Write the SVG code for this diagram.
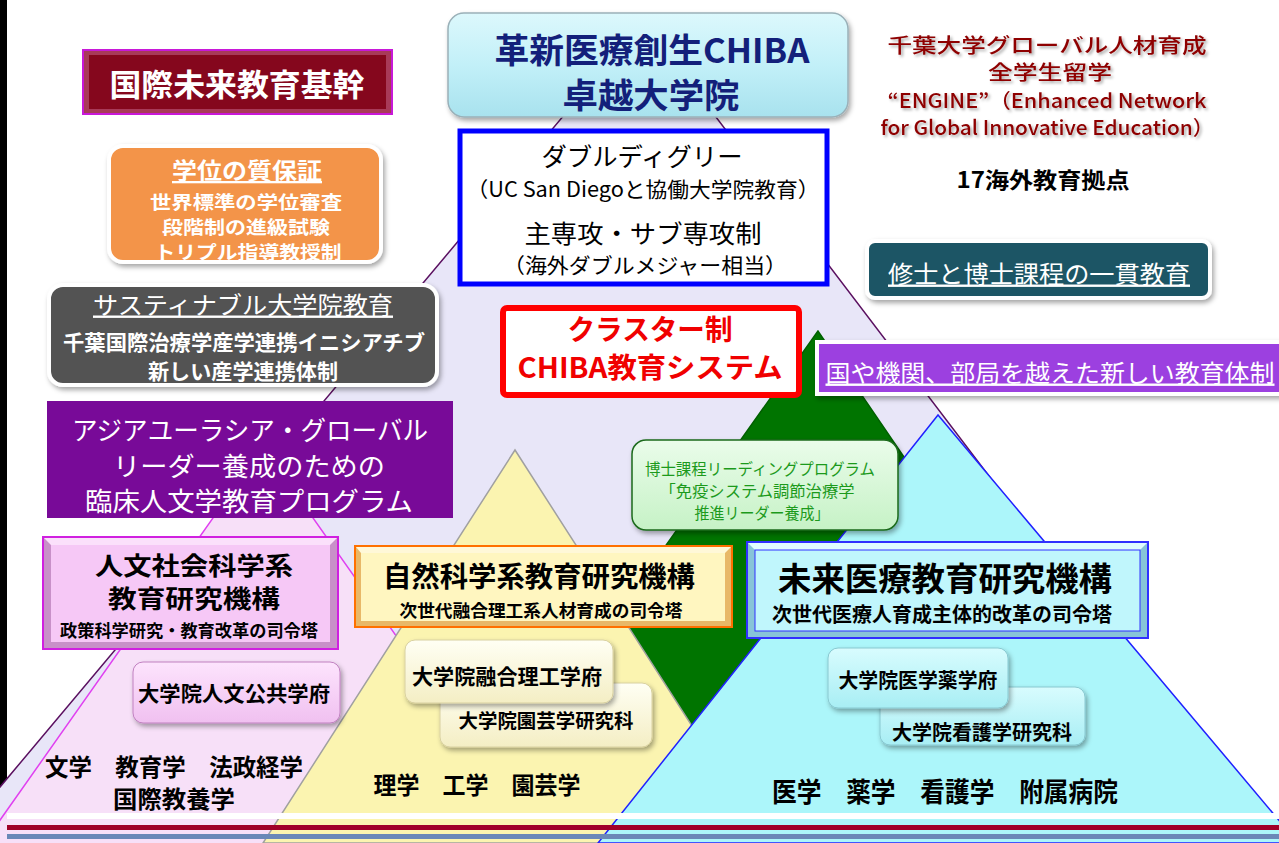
<svg xmlns="http://www.w3.org/2000/svg" width="1279" height="843" viewBox="0 0 1279 843">
<defs>
<style>
text{font-family:"Noto Sans CJK JP","Noto Sans",sans-serif;text-anchor:middle;dominant-baseline:central}
.b{font-weight:700}
.w{fill:#fff}
.k{fill:#000}
.u{text-decoration:underline}
.tri{stroke-width:1.5}
.box2{filter:url(#sh)}
</style>
<filter id="sh" x="-10%" y="-10%" width="125%" height="135%"><feDropShadow dx="2" dy="3" stdDeviation="2.5" flood-color="#000" flood-opacity="0.35"/></filter>
<filter id="tsh" x="-5%" y="-20%" width="110%" height="160%"><feDropShadow dx="2" dy="2" stdDeviation="1.5" flood-color="#000" flood-opacity="0.35"/></filter>
<linearGradient id="gTop" x1="0" y1="0" x2="0" y2="1"><stop offset="0" stop-color="#dcf8fc"/><stop offset="0.5" stop-color="#c2f0f8"/><stop offset="1" stop-color="#a8e2ee"/></linearGradient>
<linearGradient id="gGreen" x1="0" y1="0" x2="0" y2="1"><stop offset="0" stop-color="#eafcea"/><stop offset="1" stop-color="#c6f2c6"/></linearGradient>
<linearGradient id="gPink" x1="0" y1="0" x2="0" y2="1"><stop offset="0" stop-color="#fde4fd"/><stop offset="1" stop-color="#f0c0f0"/></linearGradient>
<linearGradient id="gCream" x1="0" y1="0" x2="0" y2="1"><stop offset="0" stop-color="#fffff4"/><stop offset="1" stop-color="#f4eec4"/></linearGradient>
<linearGradient id="gCyan" x1="0" y1="0" x2="0" y2="1"><stop offset="0" stop-color="#d8fcfe"/><stop offset="1" stop-color="#a8eef4"/></linearGradient>
</defs>
<rect width="1279" height="843" fill="#fff"/>
<rect x="0" y="0" width="7" height="843" fill="#000"/>
<g id="background">
<polygon class="tri" points="643,21 -47,843 1268,843" fill="#e8e6f8" stroke="#5a1060"/>
<polygon class="tri" points="818,331 398,923 1222,923" fill="#007400" stroke="#006000"/>
<polygon class="tri" points="263,447 -100,962 626,962" fill="#f7e0f8" stroke="#e040f0"/>
<polygon class="tri" points="515,450 263,843 767,843" fill="#fbf4b0" stroke="#a0a0a0"/>
<polygon class="tri" points="938,415 598,843 1298,843" fill="#acf6fa" stroke="#2020ff"/>
<rect x="7" y="813" width="1272" height="6" fill="#fff"/>
<rect x="7" y="825" width="1272" height="5" fill="#a00028"/>
<rect x="7" y="834" width="1272" height="5" fill="#6a88b8"/>
</g>
<g id="connectors"/>
<g id="kikan">
<rect x="83" y="50" width="309" height="64" fill="#a83a58" stroke="#c818d8" stroke-width="2"/>
<rect x="89" y="55" width="297" height="54" fill="#85071d"/>
<text x="237" y="82" class="w b" font-size="31" textLength="255" lengthAdjust="spacingAndGlyphs">国際未来教育基幹</text>
</g>
<g id="gakui">
<rect class="box2" x="109" y="146" width="272" height="116" rx="14" fill="#f39448" stroke="#fff" stroke-width="4"/>
<text x="247" y="169" class="w b u" font-size="23" textLength="150" lengthAdjust="spacingAndGlyphs">学位の質保証</text>
<text x="246" y="201" class="w b" font-size="18.5" textLength="192" lengthAdjust="spacingAndGlyphs">世界標準の学位審査</text>
<text x="246" y="226" class="w b" font-size="18.5" textLength="168" lengthAdjust="spacingAndGlyphs">段階制の進級試験</text>
<text x="248" y="251" class="w b" font-size="18.5" textLength="187" lengthAdjust="spacingAndGlyphs">トリプル指導教授制</text>
</g>
<g id="sustainable">
<rect class="box2" x="49" y="285" width="388" height="100" rx="14" fill="#525252" stroke="#fff" stroke-width="4"/>
<text x="243" y="303" class="w u" font-size="24" textLength="300" lengthAdjust="spacingAndGlyphs">サスティナブル大学院教育</text>
<text x="244" y="341" class="w b" font-size="21" textLength="362" lengthAdjust="spacingAndGlyphs">千葉国際治療学産学連携イニシアチブ</text>
<text x="243" y="370" class="w b" font-size="21" textLength="190" lengthAdjust="spacingAndGlyphs">新しい産学連携体制</text>
</g>
<g id="asia">
<rect x="47" y="401" width="406" height="117" fill="#780a98"/>
<text x="250" y="428" class="w" font-size="26" textLength="356" lengthAdjust="spacingAndGlyphs">アジアユーラシア・グローバル</text>
<text x="249" y="464" class="w" font-size="26" textLength="272" lengthAdjust="spacingAndGlyphs">リーダー養成のための</text>
<text x="249" y="499" class="w" font-size="26" textLength="328" lengthAdjust="spacingAndGlyphs">臨床人文学教育プログラム</text>
</g>
<g id="top">
<rect class="box2" x="448" y="13" width="400" height="104" rx="16" fill="url(#gTop)" stroke="#9ab0b8" stroke-width="1.5"/>
<text x="652" y="48" class="b" fill="#13207a" font-size="34" textLength="315" lengthAdjust="spacingAndGlyphs">革新医療創生CHIBA</text>
<text x="651" y="93" class="b" fill="#13207a" font-size="34" textLength="177" lengthAdjust="spacingAndGlyphs">卓越大学院</text>
</g>
<g id="double">
<rect x="460" y="131" width="367" height="153" fill="#fff" stroke="#0000ff" stroke-width="5"/>
<text x="642" y="155" class="k" font-size="25" textLength="201" lengthAdjust="spacingAndGlyphs">ダブルディグリー</text>
<text x="643" y="188" class="k" font-size="21" textLength="353" lengthAdjust="spacingAndGlyphs">（UC San Diegoと協働大学院教育）</text>
<text x="643" y="232" class="k" font-size="25" textLength="237" lengthAdjust="spacingAndGlyphs">主専攻・サブ専攻制</text>
<text x="645" y="264" class="k" font-size="21" textLength="284" lengthAdjust="spacingAndGlyphs">（海外ダブルメジャー相当）</text>
</g>
<g id="cluster">
<rect x="503" y="308" width="296" height="87" rx="4" fill="#fff" stroke="#ff0000" stroke-width="6"/>
<text x="650" y="328" class="b" fill="#f00000" font-size="28" textLength="165" lengthAdjust="spacingAndGlyphs">クラスター制</text>
<text x="650" y="366" class="b" fill="#f00000" font-size="28" textLength="265" lengthAdjust="spacingAndGlyphs">CHIBA教育システム</text>
</g>
<g id="engine" fill="#8e0000" style="filter:url(#tsh)">
<text x="1047" y="44" font-size="20" font-weight="500" textLength="319" lengthAdjust="spacingAndGlyphs">千葉大学グローバル人材育成</text>
<text x="1050" y="71.5" font-size="20" font-weight="500" textLength="124" lengthAdjust="spacingAndGlyphs">全学生留学</text>
<text x="1047" y="99" font-size="20" font-weight="500" textLength="319" lengthAdjust="spacingAndGlyphs">“ENGINE”（Enhanced Network</text>
<text x="1047" y="126.5" font-size="20" font-weight="500" textLength="333" lengthAdjust="spacingAndGlyphs">for Global Innovative Education）</text>
</g>
<g id="overseas">
<text x="1043" y="178" class="k b" font-size="22" textLength="173" lengthAdjust="spacingAndGlyphs">17海外教育拠点</text>
</g>
<g id="ikkan">
<rect class="box2" x="867" y="241" width="343" height="57" rx="8" fill="#1f5565" stroke="#fff" stroke-width="4"/>
<text x="1039" y="272" class="w u" font-size="24" textLength="302" lengthAdjust="spacingAndGlyphs">修士と博士課程の一貫教育</text>
</g>
<g id="kuni">
<rect class="box2" x="817" y="342" width="470" height="52" fill="#9c40e0" stroke="#fff" stroke-width="4"/>
<text x="1050" y="371" class="w u" font-size="24" textLength="449" lengthAdjust="spacingAndGlyphs">国や機関、部局を越えた新しい教育体制</text>
</g>
<g id="leading">
<rect class="box2" x="632" y="440" width="266" height="90" rx="14" fill="url(#gGreen)" stroke="#1a6a1a" stroke-width="1.5"/>
<text x="760" y="468" fill="#1c9a1c" font-size="16" textLength="230" lengthAdjust="spacingAndGlyphs">博士課程リーディングプログラム</text>
<text x="757" y="490" fill="#1c9a1c" font-size="16" textLength="195" lengthAdjust="spacingAndGlyphs">「免疫システム調節治療学</text>
<text x="762" y="512" fill="#1c9a1c" font-size="16" textLength="135" lengthAdjust="spacingAndGlyphs">推進リーダー養成」</text>
</g>
<g id="jinbun">
<rect x="43" y="537" width="295" height="112" fill="#c890c8" stroke="#d020e0" stroke-width="2"/>
<polygon points="44,538 337,538 330,545 51,545" fill="#fbe0fb"/>
<rect x="51" y="545" width="279" height="97" fill="#f6c8f6"/>
<text x="194" y="564" class="k b" font-size="24.5" textLength="198" lengthAdjust="spacingAndGlyphs">人文社会科学系</text>
<text x="194" y="597" class="k b" font-size="24.5" textLength="172" lengthAdjust="spacingAndGlyphs">教育研究機構</text>
<text x="189" y="629" class="k b" font-size="17" textLength="258" lengthAdjust="spacingAndGlyphs">政策科学研究・教育改革の司令塔</text>
</g>
<g id="jinbun-fu">
<rect class="box2" x="133" y="662" width="207" height="61" rx="10" fill="url(#gPink)" stroke="#c080c0" stroke-width="1"/>
<text x="234" y="692" class="k b" font-size="21" textLength="192" lengthAdjust="spacingAndGlyphs">大学院人文公共学府</text>
</g>
<g id="jinbun-dept">
<text x="174" y="766" class="k b" font-size="23.5" textLength="258" lengthAdjust="spacingAndGlyphs">文学　教育学　法政経学</text>
<text x="174" y="798" class="k b" font-size="23.5" textLength="122" lengthAdjust="spacingAndGlyphs">国際教養学</text>
</g>
<g id="shizen">
<rect x="355" y="546" width="377" height="81" fill="#e8b868" stroke="#ff7000" stroke-width="2"/>
<polygon points="356,547 731,547 725,553 361,553" fill="#fff8d8"/>
<rect x="361" y="553" width="364" height="68" fill="#fff6c0"/>
<text x="539" y="575" class="k b" font-size="28" textLength="312" lengthAdjust="spacingAndGlyphs">自然科学系教育研究機構</text>
<text x="541" y="609" class="k b" font-size="17.5" textLength="283" lengthAdjust="spacingAndGlyphs">次世代融合理工系人材育成の司令塔</text>
</g>
<g id="engei">
<rect class="box2" x="440" y="683" width="212" height="64" rx="10" fill="url(#gCream)" stroke="#d8d0a0" stroke-width="1"/>
<text x="546" y="719" class="k b" font-size="19.5" textLength="175" lengthAdjust="spacingAndGlyphs">大学院園芸学研究科</text>
</g>
<g id="yugo">
<rect class="box2" x="405" y="640" width="208" height="63" rx="10" fill="url(#gCream)" stroke="#d8d0a0" stroke-width="1"/>
<text x="507" y="675" class="k b" font-size="21" textLength="190" lengthAdjust="spacingAndGlyphs">大学院融合理工学府</text>
</g>
<g id="shizen-dept">
<text x="477" y="783" class="k b" font-size="24" textLength="207" lengthAdjust="spacingAndGlyphs">理学　工学　園芸学</text>
</g>
<g id="mirai">
<rect x="747" y="542" width="401" height="96" fill="#88c4d8" stroke="#3030ff" stroke-width="2"/>
<polygon points="748,543 1147,543 1140,550 755,550" fill="#e0fcff"/>
<rect x="755" y="550" width="385" height="81" fill="#c0f6fc" stroke="#3030ff" stroke-width="1"/>
<text x="945" y="577" class="k b" font-size="33" textLength="334" lengthAdjust="spacingAndGlyphs">未来医療教育研究機構</text>
<text x="942" y="613" class="k b" font-size="20" textLength="340" lengthAdjust="spacingAndGlyphs">次世代医療人育成主体的改革の司令塔</text>
</g>
<g id="kango">
<rect class="box2" x="880" y="687" width="205" height="58" rx="10" fill="url(#gCyan)" stroke="#88c8d0" stroke-width="1"/>
<text x="982" y="731" class="k b" font-size="20" textLength="180" lengthAdjust="spacingAndGlyphs">大学院看護学研究科</text>
</g>
<g id="igaku">
<rect class="box2" x="828" y="648" width="180" height="60" rx="10" fill="url(#gCyan)" stroke="#88c8d0" stroke-width="1"/>
<text x="918" y="679" class="k b" font-size="20" textLength="159" lengthAdjust="spacingAndGlyphs">大学院医学薬学府</text>
</g>
<g id="igaku-dept">
<text x="945" y="790" class="k b" font-size="27" textLength="346" lengthAdjust="spacingAndGlyphs">医学　薬学　看護学　附属病院</text>
</g>
</svg>
